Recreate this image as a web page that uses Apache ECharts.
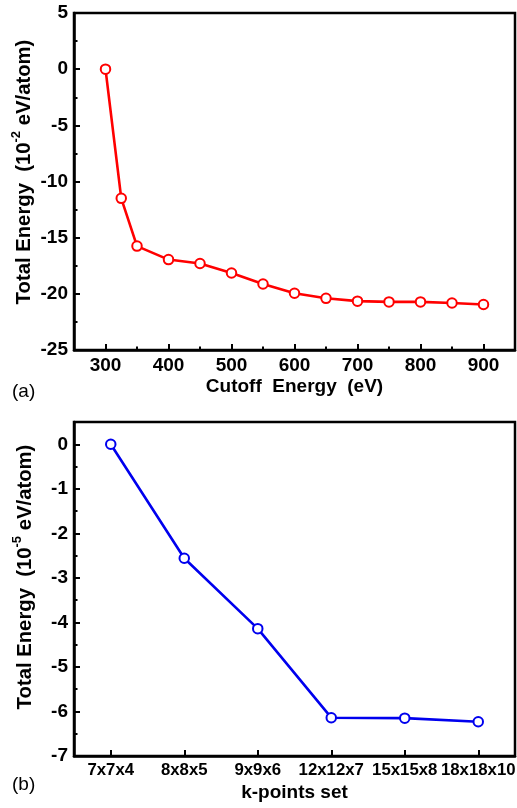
<!DOCTYPE html>
<html>
<head>
<meta charset="utf-8">
<style>
  html, body { margin: 0; padding: 0; background: #fff; }
  #chart { width: 517px; height: 808px; }
</style>
<script src="https://cdn.jsdelivr.net/npm/echarts@6/dist/echarts.min.js"></script>
</head>
<body>
<div id="chart"></div>
<script>
// ---- Data ----
const cutoffEnergy = [300, 325, 350, 400, 450, 500, 550, 600, 650, 700, 750, 800, 850, 900];
const cutoffTotalEnergy = [0, -11.5, -15.75, -16.95, -17.3, -18.15, -19.12, -19.95, -20.4, -20.65, -20.72, -20.72, -20.82, -20.95];
const cutoffMajorTicks = [300, 400, 500, 600, 700, 800, 900];
const cutoffMinorTicks = [350, 450, 550, 650, 750, 850];

const kPointSets = ['7x7x4', '8x8x5', '9x9x6', '12x12x7', '15x15x8', '18x18x10'];
const kPointTotalEnergy = [0, -2.56, -4.14, -6.14, -6.15, -6.23];
const kMajorTicks = [-7, -6, -5, -4, -3, -2, -1, 0];
const kMinorTicks = [-6.5, -5.5, -4.5, -3.5, -2.5, -1.5, -0.5];

// ---- Styles ----
const FONT = '"Liberation Sans", Arial, Helvetica, sans-serif';
const black = '#000';
const lineAxis = { show: true, onZero: false, lineStyle: { color: black, width: 2.5 } };
const nameRich = {
  b: { fontFamily: FONT, fontWeight: 'bold', fontSize: 20.3, color: black, lineHeight: 28 },
  sup: { fontFamily: FONT, fontWeight: 'bold', fontSize: 13, color: black, lineHeight: 13, verticalAlign: 'top' }
};

const chart = echarts.init(document.getElementById('chart'), null, { renderer: 'canvas' });

const option = {
  animation: false,
  backgroundColor: '#fff',
  grid: [
    { left: 74, top: 13, width: 441, height: 337, show: true, borderColor: black, borderWidth: 2.5, containLabel: false, outerBoundsMode: 'none' },
    { left: 74, top: 422, width: 441, height: 334, show: true, borderColor: black, borderWidth: 2.5, containLabel: false, outerBoundsMode: 'none' }
  ],
  xAxis: [
    {
      gridIndex: 0, type: 'value', min: 250, max: 950, position: 'bottom',
      axisLine: lineAxis,
      axisTick: { show: true, inside: true, length: 6, lineStyle: { color: black, width: 2 }, customValues: cutoffMajorTicks },
      axisLabel: { customValues: cutoffMajorTicks, fontFamily: FONT, fontWeight: 'bold', fontSize: 19, color: black, margin: 6 },
      splitLine: { show: false },
      name: 'Cutoff  Energy  (eV)', nameLocation: 'middle', nameGap: 27, nameMoveOverlap: false,
      nameTextStyle: { fontFamily: FONT, fontWeight: 'bold', fontSize: 19, color: black }
    },
    {
      gridIndex: 0, type: 'value', min: 250, max: 950, position: 'bottom',
      axisLine: { show: false, onZero: false },
      axisTick: { show: true, inside: true, length: 3.5, lineStyle: { color: black, width: 2 }, customValues: cutoffMinorTicks },
      axisLabel: { show: false },
      splitLine: { show: false }
    },
    {
      gridIndex: 1, type: 'category', data: kPointSets, boundaryGap: true, position: 'bottom',
      axisLine: lineAxis,
      axisTick: { show: true, inside: true, alignWithLabel: true, length: 6, lineStyle: { color: black, width: 2 } },
      axisLabel: { fontFamily: FONT, fontWeight: 'bold', fontSize: 16.8, color: black, margin: 6, interval: 0, hideOverlap: false },
      splitLine: { show: false },
      name: 'k-points set', nameLocation: 'middle', nameGap: 27, nameMoveOverlap: false,
      nameTextStyle: { fontFamily: FONT, fontWeight: 'bold', fontSize: 19, color: black }
    }
  ],
  yAxis: [
    {
      gridIndex: 0, type: 'value', min: -25, max: 5, interval: 5, position: 'left',
      axisLine: lineAxis,
      axisTick: { show: true, inside: true, length: 6, lineStyle: { color: black, width: 2 } },
      minorTick: { show: true, splitNumber: 2, length: 3.5, lineStyle: { color: black, width: 2 } },
      axisLabel: { fontFamily: FONT, fontWeight: 'bold', fontSize: 19, color: black, margin: 6 },
      splitLine: { show: false },
      minorSplitLine: { show: false },
      name: '{b|Total Energy  (10}{sup|-2}{b| eV/atom)}', nameLocation: 'middle', nameGap: 36, nameMoveOverlap: false,
      nameTextStyle: { rich: nameRich, padding: [0, 0, 0, 19] }
    },
    {
      gridIndex: 1, type: 'value', min: -7, max: 0.5, position: 'left',
      axisLine: lineAxis,
      axisTick: { show: true, inside: true, length: 6, lineStyle: { color: black, width: 2 }, customValues: kMajorTicks },
      axisLabel: { customValues: kMajorTicks, fontFamily: FONT, fontWeight: 'bold', fontSize: 19, color: black, margin: 6 },
      splitLine: { show: false },
      name: '{b|Total Energy  (10}{sup|-5}{b| eV/atom)}', nameLocation: 'middle', nameGap: 35, nameMoveOverlap: false,
      nameTextStyle: { rich: nameRich, padding: [0, 0, 0, 24] }
    },
    {
      gridIndex: 1, type: 'value', min: -7, max: 0.5, position: 'left',
      axisLine: { show: false, onZero: false },
      axisTick: { show: true, inside: true, length: 3.5, lineStyle: { color: black, width: 2 }, customValues: kMinorTicks },
      axisLabel: { show: false },
      splitLine: { show: false }
    }
  ],
  series: [
    {
      type: 'line', xAxisIndex: 0, yAxisIndex: 0,
      data: cutoffEnergy.map((x, i) => [x, cutoffTotalEnergy[i]]),
      symbol: 'emptyCircle', symbolSize: 9.5,
      lineStyle: { color: '#ff0000', width: 2.6 },
      itemStyle: { color: '#ff0000', borderColor: '#ff0000', borderWidth: 2.2 },
      z: 3
    },
    {
      type: 'line', xAxisIndex: 2, yAxisIndex: 1,
      data: kPointTotalEnergy,
      symbol: 'emptyCircle', symbolSize: 9.5,
      lineStyle: { color: '#0000ee', width: 2.6 },
      itemStyle: { color: '#0000ee', borderColor: '#0000ee', borderWidth: 2.2 },
      z: 3
    }
  ],
  graphic: [
    { type: 'text', left: 12, top: 382, style: { text: '(a)', font: '19px ' + FONT, fill: black } },
    { type: 'text', left: 12, top: 775, style: { text: '(b)', font: '19px ' + FONT, fill: black } }
  ]
};

chart.setOption(option);
</script>
</body>
</html>
